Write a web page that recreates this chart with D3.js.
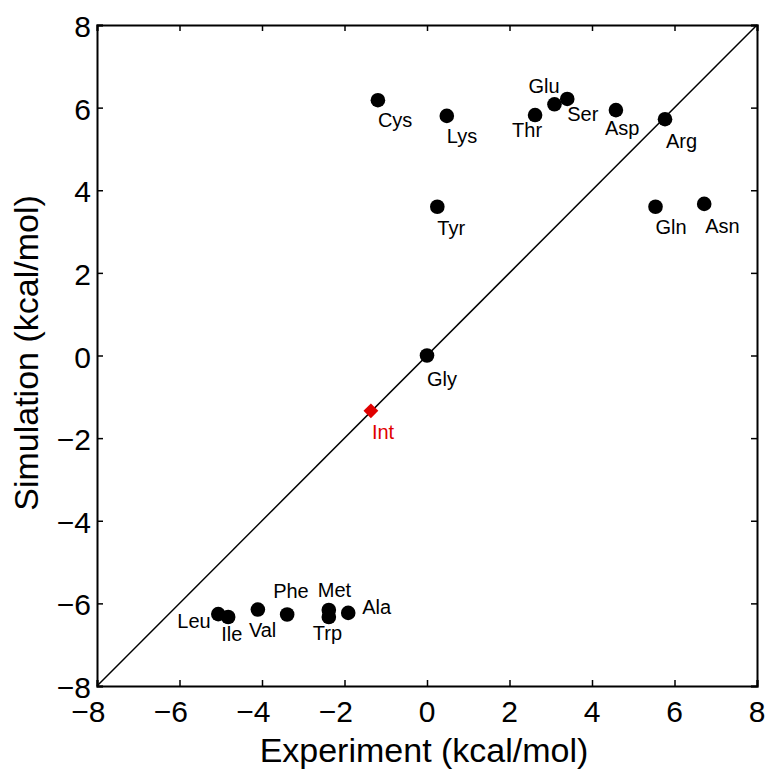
<!DOCTYPE html>
<meta charset="utf-8">
<head>
<style>
  body { margin: 0; background: #fff; }
  text { font-family: "Liberation Sans", Arial, Helvetica, sans-serif; }
</style>
</head>
<body>
<script src="https://d3js.org/d3.v7.min.js"></script>
<script>
 // residues: experiment vs simulation (kcal/mol)
 const residues = ["Cys", "Lys", "Thr", "Glu", "Ser", "Asp", "Arg", "Tyr", "Gln", "Asn", "Gly",
                   "Leu", "Ile", "Val", "Phe", "Met", "Trp", "Ala"];
 const experiment = [-1.19, 0.48, 2.62, 3.09, 3.40, 4.58, 5.77, 0.25, 5.54, 6.72, 0.00,
                     -5.06, -4.82, -4.10, -3.39, -2.38, -2.38, -1.91];
 const simulation = [6.18, 5.80, 5.82, 6.08, 6.21, 5.94, 5.72, 3.60, 3.60, 3.67, 0.00,
                     -6.26, -6.33, -6.15, -6.27, -6.16, -6.33, -6.23];

 // the red diamond
 const intName = "Int";
 const intExperiment = -1.36;
 const intSimulation = -1.34;

 const xTicks = [-8, -6, -4, -2, 0, 2, 4, 6, 8];
 const yTicks = [-8, -6, -4, -2, 0, 2, 4, 6, 8];

 // label placement relative to marker (pixels: left edge, baseline)
 const labelOffset = {
     Cys: [0, 27], Lys: [0, 27], Thr: [-23, 22], Glu: [-26, -11], Ser: [0, 22],
     Asp: [-11, 25], Arg: [1, 29], Tyr: [0, 28], Gln: [0, 27], Asn: [1, 29],
     Gly: [0, 30], Int: [1, 28],
     Leu: [-41, 14], Ile: [-7, 24], Val: [-9, 27], Phe: [-14, -17], Met: [-11, -13],
     Trp: [-16, 23], Ala: [14, 1]
 };

 const width = 769, height = 771;
 const margin = {left: 97, right: 12, top: 25, bottom: 85};

 const svg = d3.select("body").append("svg")
               .attr("width", width)
               .attr("height", height);

 const x = d3.scaleLinear().domain([-8, 8]).range([margin.left, width - margin.right]);
 const y = d3.scaleLinear().domain([-8, 8]).range([height - margin.bottom, margin.top]);

 const fmt = d => d < 0 ? "\u2212" + Math.abs(d) : String(d);
 const tickLen = 6;

 // axes, ticks pointing inwards
 const bottomAxis = d3.axisBottom(x).tickValues(xTicks).tickSize(-tickLen).tickFormat("");
 const topAxis = d3.axisTop(x).tickValues(xTicks).tickSize(-tickLen).tickFormat("");
 const leftAxis = d3.axisLeft(y).tickValues(yTicks).tickSize(-tickLen).tickFormat("");
 const rightAxis = d3.axisRight(y).tickValues(yTicks).tickSize(-tickLen).tickFormat("");

 const axes = [
     [bottomAxis, `translate(0,${y(-8)})`],
     [topAxis, `translate(0,${y(8)})`],
     [leftAxis, `translate(${x(-8)},0)`],
     [rightAxis, `translate(${x(8)},0)`]
 ];
 axes.forEach(([ax, tr]) => {
     const g = svg.append("g").attr("transform", tr).call(ax);
     g.select(".domain").attr("stroke", "#000").attr("stroke-width", 2);
     g.selectAll(".tick line").attr("stroke", "#000").attr("stroke-width", 1.5);
 });

 // x tick labels: digit centred on the tick, minus hanging to the left
 svg.append("g").selectAll("text")
    .data(xTicks)
    .join("text")
    .attr("x", d => x(d) + 8.5)
    .attr("y", y(-8) + 36)
    .attr("text-anchor", "end")
    .attr("font-size", 30)
    .text(fmt);

 svg.append("g").selectAll("text")
    .data(yTicks)
    .join("text")
    .attr("x", x(-8) - 6)
    .attr("y", d => y(d) + 12)
    .attr("text-anchor", "end")
    .attr("font-size", 30)
    .text(fmt);

 // identity line
 svg.append("line")
    .attr("x1", x(-8)).attr("y1", y(-8))
    .attr("x2", x(8)).attr("y2", y(8))
    .attr("stroke", "#000")
    .attr("stroke-width", 1.5);

 const pts = residues.map((name, i) => ({name, ex: experiment[i], sim: simulation[i]}));

 svg.append("g").selectAll("circle")
    .data(pts)
    .join("circle")
    .attr("cx", d => x(d.ex))
    .attr("cy", d => y(d.sim))
    .attr("r", 7.3)
    .attr("fill", "#000");

 svg.append("g").selectAll("text")
    .data(pts)
    .join("text")
    .attr("x", d => x(d.ex) + labelOffset[d.name][0])
    .attr("y", d => y(d.sim) + labelOffset[d.name][1])
    .attr("font-size", 20)
    .attr("fill", "#000")
    .text(d => d.name);

 svg.append("path")
    .attr("d", d3.symbol(d3.symbolSquare, 110)())
    .attr("transform", `translate(${x(intExperiment)},${y(intSimulation)}) rotate(45)`)
    .attr("fill", "#e00000");

 svg.append("text")
    .attr("x", x(intExperiment) + labelOffset[intName][0])
    .attr("y", y(intSimulation) + labelOffset[intName][1])
    .attr("font-size", 20)
    .attr("fill", "#e00000")
    .text(intName);

 // axis titles
 svg.append("text")
    .attr("x", 424)
    .attr("y", 762)
    .attr("text-anchor", "middle")
    .attr("font-size", 34)
    .text("Experiment (kcal/mol)");

 svg.append("text")
    .attr("transform", `translate(38,${353}) rotate(-90)`)
    .attr("text-anchor", "middle")
    .attr("font-size", 34)
    .text("Simulation (kcal/mol)");
</script>
</body>
